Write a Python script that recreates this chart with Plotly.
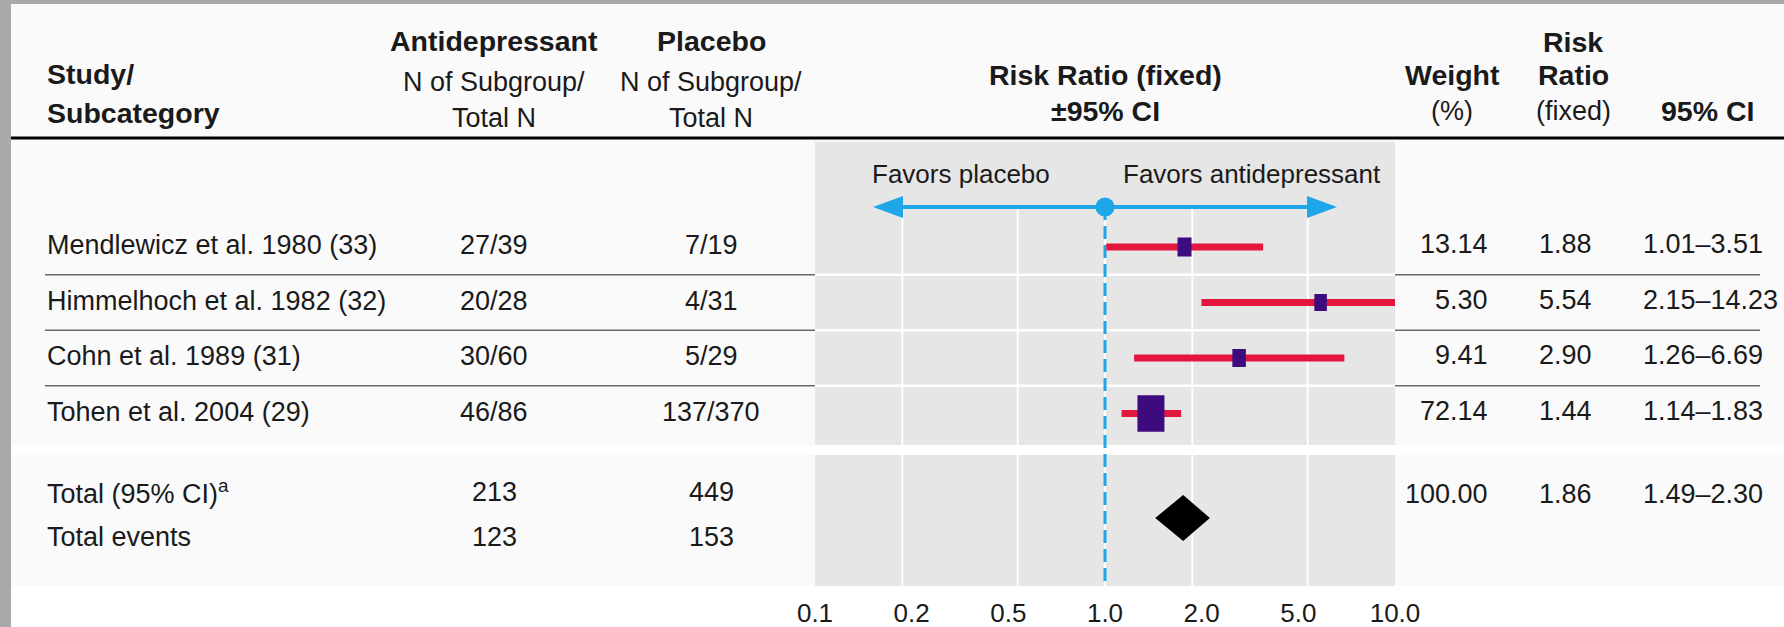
import plotly.graph_objects as go

# ---------------- data ----------------
studies = ["Mendlewicz et al. 1980 (33)", "Himmelhoch et al. 1982 (32)",
           "Cohn et al. 1989 (31)", "Tohen et al. 2004 (29)"]
ad_events = [27, 20, 30, 46]
ad_total = [39, 28, 60, 86]
pl_events = [7, 4, 5, 137]
pl_total = [19, 31, 29, 370]
weights = [13.14, 5.30, 9.41, 72.14]
rr = [1.88, 5.54, 2.90, 1.44]
ci_low = [1.01, 2.15, 1.26, 1.14]
ci_high = [3.51, 14.23, 6.69, 1.83]

total_label = "Total (95% CI)<sup>a</sup>"
events_label = "Total events"
total_ad_n = 213
total_pl_n = 449
total_ad_events = 123
total_pl_events = 153
total_weight = 100.00
total_rr = 1.86
total_low = 1.49
total_high = 2.30

tick_vals = [0.1, 0.2, 0.5, 1.0, 2.0, 5.0, 10.0]
tick_text = ["0.1", "0.2", "0.5", "1.0", "2.0", "5.0", "10.0"]
favors_left = "Favors placebo"
favors_right = "Favors antidepressant"

# ---------------- styles / geometry ----------------
W, H = 1784, 627
FONT = "Liberation Sans, Arial, sans-serif"
TXT = "#1a1a1a"
FRAME = "#a9a9a9"
LIGHT = "#fafafa"
PANEL = "#e6e6e6"
BLUE = "#1da6e8"
RED = "#e3173e"
PURPLE = "#3d0b7e"
SEP = "#6a6a6a"

BODY = 27
HEAD = 28.5
TICK = 26

box_w = [14, 12.5, 13.5, 27]      # px
box_h = [19, 17, 18, 36.5]        # px

PANEL_L, PANEL_R = 815, 1395
PANEL_T, PANEL_B = 142, 586
GAP_T, GAP_B = 445, 455
ROW0, STEP = 247, 55.5
PX_PER_DEC = (PANEL_R - PANEL_L) / 2.0
TEXT_NUDGE = -0.035


def r(px):
    """pixel row -> y-axis units"""
    return (px - ROW0) / STEP


def pxx(px):
    return px / W


def pyy(px):
    return 1 - px / H


rows = list(range(len(studies)))
total_row = r(494)
events_row = r(537)
diamond_row = r(518)
diamond_half = 23 / STEP
arrow_y = r(207)
favors_y = r(173.5)
y_bottom = r(PANEL_B)
y_top = r(PANEL_T)

fig = go.Figure()

# gridlines (white) from arrow down to panel bottom
gx, gy = [], []
for v in tick_vals[1:-1]:
    gx += [v, v, None]
    gy += [arrow_y, y_bottom, None]
fig.add_trace(go.Scatter(x=gx, y=gy, mode="lines", line=dict(color="white", width=2),
                         hoverinfo="skip", showlegend=False))

# dashed reference line at 1.0
fig.add_trace(go.Scatter(x=[1, 1], y=[arrow_y, y_bottom], mode="lines",
                         line=dict(color=BLUE, width=3, dash="13px,6px"),
                         hoverinfo="skip", showlegend=False))

# arrow
tip_l = 10 ** (-0.8)
tip_r = 10 ** (0.8)
head_len = 10 ** (30 / PX_PER_DEC)
head_half = 11 / STEP
fig.add_trace(go.Scatter(x=[tip_l * 1.05, tip_r / 1.05], y=[arrow_y, arrow_y], mode="lines",
                         line=dict(color=BLUE, width=4), hoverinfo="skip", showlegend=False))
for tip, base in [(tip_l, tip_l * head_len), (tip_r, tip_r / head_len)]:
    fig.add_trace(go.Scatter(x=[tip, base, base, tip],
                             y=[arrow_y, arrow_y - head_half, arrow_y + head_half, arrow_y],
                             mode="lines", fill="toself", fillcolor=BLUE,
                             line=dict(color=BLUE, width=0), hoverinfo="skip", showlegend=False))
fig.add_trace(go.Scatter(x=[1], y=[arrow_y], mode="markers",
                         marker=dict(color=BLUE, size=19, symbol="circle"),
                         hoverinfo="skip", showlegend=False))

# whiskers + boxes
for i in rows:
    fig.add_trace(go.Scatter(x=[ci_low[i], ci_high[i]], y=[i, i], mode="lines",
                             line=dict(color=RED, width=7), hoverinfo="skip", showlegend=False))
for i in rows:
    hh = box_h[i] / 2 / STEP
    fig.add_trace(go.Scatter(x=[rr[i], rr[i]], y=[i - hh, i + hh], mode="lines",
                             line=dict(color=PURPLE, width=box_w[i]),
                             hoverinfo="skip", showlegend=False))

# pooled diamond
fig.add_trace(go.Scatter(x=[total_low, total_rr, total_high, total_rr, total_low],
                         y=[diamond_row, diamond_row - diamond_half, diamond_row,
                            diamond_row + diamond_half, diamond_row],
                         mode="lines", fill="toself", fillcolor="black",
                         line=dict(color="black", width=0), hoverinfo="skip", showlegend=False))

# ---------------- shapes ----------------
shapes = []
shapes.append(dict(type="rect", xref="paper", yref="paper", x0=0, x1=pxx(11), y0=0, y1=1,
                   fillcolor=FRAME, line=dict(width=0), layer="below"))
shapes.append(dict(type="rect", xref="paper", yref="paper", x0=0, x1=1, y0=pyy(4), y1=1,
                   fillcolor=FRAME, line=dict(width=0), layer="below"))
shapes.append(dict(type="rect", xref="paper", yref="paper", x0=pxx(11), x1=1, y0=pyy(GAP_T), y1=pyy(4),
                   fillcolor=LIGHT, line=dict(width=0), layer="below"))
shapes.append(dict(type="rect", xref="paper", yref="paper", x0=pxx(11), x1=1, y0=pyy(PANEL_B), y1=pyy(GAP_B),
                   fillcolor=LIGHT, line=dict(width=0), layer="below"))
for sep in [0.5, 1.5, 2.5]:
    shapes.append(dict(type="line", xref="paper", yref="y", x0=pxx(45), x1=pxx(1760), y0=sep, y1=sep,
                       line=dict(color=SEP, width=1.6), layer="below"))
shapes.append(dict(type="rect", xref="x domain", yref="y", x0=0, x1=1, y0=y_top, y1=r(GAP_T),
                   fillcolor=PANEL, line=dict(width=0), layer="below"))
shapes.append(dict(type="rect", xref="x domain", yref="y", x0=0, x1=1, y0=r(GAP_B), y1=y_bottom,
                   fillcolor=PANEL, line=dict(width=0), layer="below"))
for sep in [0.5, 1.5, 2.5]:
    shapes.append(dict(type="line", xref="x domain", yref="y", x0=0, x1=1, y0=sep, y1=sep,
                       line=dict(color="white", width=2.5), layer="below"))
shapes.append(dict(type="line", xref="paper", yref="paper", x0=pxx(11), x1=1, y0=pyy(138), y1=pyy(138),
                   line=dict(color="black", width=3), layer="above"))

# ---------------- annotations ----------------
ann = []


def txt(text, x, y, xanchor="center", size=BODY, yref="paper", bold=False):
    if bold:
        text = "<b>" + text + "</b>"
    ann.append(dict(text=text, x=pxx(x), y=(pyy(y) if yref == "paper" else y), xref="paper", yref=yref,
                    xanchor=xanchor, yanchor="middle", showarrow=False,
                    font=dict(family=FONT, size=size, color=TXT)))


txt("Study/", 45, 74, "left", HEAD, bold=True)
txt("Subcategory", 45, 113, "left", HEAD, bold=True)
txt("Antidepressant", 494, 41, size=HEAD, bold=True)
txt("N of Subgroup/", 494, 82)
txt("Total N", 494, 118)
txt("Placebo", 711, 41, size=HEAD, bold=True)
txt("N of Subgroup/", 711, 82)
txt("Total N", 711, 118)
txt("Risk Ratio (fixed)", 1105, 75, size=HEAD, bold=True)
txt("±95% CI", 1105, 111, size=HEAD, bold=True)
txt("Weight", 1452, 75, size=HEAD, bold=True)
txt("(%)", 1452, 111)
txt("Risk", 1573, 42, size=HEAD, bold=True)
txt("Ratio", 1573, 75, size=HEAD, bold=True)
txt("(fixed)", 1573, 111)
txt("95% CI", 1707, 111, size=HEAD, bold=True)

for i in rows:
    ty = i + TEXT_NUDGE
    txt(studies[i], 45, ty, "left", yref="y")
    txt(f"{ad_events[i]}/{ad_total[i]}", 494, ty, yref="y")
    txt(f"{pl_events[i]}/{pl_total[i]}", 711, ty, yref="y")
    txt(f"{weights[i]:.2f}", 1490, i - 0.05, "right", yref="y")
    txt(f"{rr[i]:.2f}", 1594, i - 0.05, "right", yref="y")
    txt(f"{ci_low[i]:.2f}\u2013{ci_high[i]:.2f}", 1641, i - 0.05, "left", yref="y")

txt(total_label, 45, total_row + TEXT_NUDGE, "left", yref="y")
txt(str(total_ad_n), 494, total_row + TEXT_NUDGE, yref="y")
txt(str(total_pl_n), 711, total_row + TEXT_NUDGE, yref="y")
txt(f"{total_weight:.2f}", 1490, total_row, "right", yref="y")
txt(f"{total_rr:.2f}", 1594, total_row, "right", yref="y")
txt(f"{total_low:.2f}\u2013{total_high:.2f}", 1641, total_row, "left", yref="y")
txt(events_label, 45, events_row, "left", yref="y")
txt(str(total_ad_events), 494, events_row, yref="y")
txt(str(total_pl_events), 711, events_row, yref="y")

txt(favors_left, 961, favors_y, yref="y", size=26)
txt(favors_right, 1252, favors_y, yref="y", size=26)

fig.update_layout(
    width=W, height=H, autosize=False,
    margin=dict(l=0, r=0, t=0, b=0, pad=0, autoexpand=False),
    paper_bgcolor="white", plot_bgcolor="rgba(0,0,0,0)",
    showlegend=False,
    shapes=shapes, annotations=ann,
    xaxis=dict(type="log", range=[-1, 1], domain=[pxx(PANEL_L), pxx(PANEL_R)],
               showgrid=False, zeroline=False, showline=False, showticklabels=False, ticks="",
               automargin=False),
    xaxis2=dict(overlaying="x", anchor="y", side="bottom", range=[0, len(tick_text) - 1],
                tickmode="array", tickvals=list(range(len(tick_text))), ticktext=tick_text,
                showgrid=False, zeroline=False, showline=False, ticks="", automargin=False,
                tickfont=dict(family=FONT, size=TICK, color=TXT), ticklabelstandoff=9),
    yaxis=dict(range=[y_bottom, y_top], domain=[pyy(PANEL_B), pyy(PANEL_T)],
               visible=False, showgrid=False, zeroline=False, automargin=False),
)
fig.add_trace(go.Scatter(x=[0, len(tick_text) - 1], y=[y_bottom, y_bottom], xaxis="x2", yaxis="y",
                         mode="markers", marker=dict(opacity=0), hoverinfo="skip", showlegend=False))

fig.write_html("out.html", config={"displayModeBar": False},
               post_script="document.body.style.margin='0';document.body.style.overflow='hidden';")
